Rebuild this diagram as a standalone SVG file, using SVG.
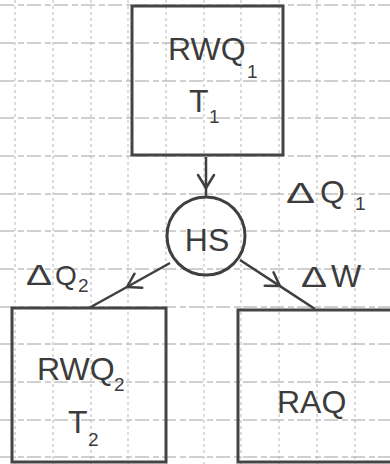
<svg xmlns="http://www.w3.org/2000/svg" width="390" height="464" viewBox="0 0 390 464">
<defs>
<style>
.bg{fill:#ffffff}
.gh{stroke:#a0a0a0;stroke-width:1;stroke-dasharray:14 4 6 3}
.gv{stroke:#b8b8b8;stroke-width:1;stroke-dasharray:3 3}
.box{fill:none;stroke:#454545;stroke-width:3}
.node-c{fill:none;stroke:#3f3f3f;stroke-width:3}
.con{fill:none;stroke:#3f3f3f;stroke-width:2.5;marker-mid:url(#chev)}
.t{font-family:"Liberation Sans",Arial,sans-serif;fill:#3c3c3c}
.d{font-family:"Liberation Sans",Arial,sans-serif;fill:#3c3c3c;font-size:30px}
.big{font-size:32px}
.mid{font-size:28px}
.sub{font-size:19px}
</style>
<marker id="chev" markerUnits="userSpaceOnUse" markerWidth="30" markerHeight="30" refX="0" refY="0" viewBox="-15 -15 30 30" orient="auto" overflow="visible">
<path d="M-13,-8 L0,0 L-13,8" fill="none" stroke="#3f3f3f" stroke-width="2.5" stroke-linejoin="round" stroke-linecap="round"/>
</marker>
</defs>
<rect class="bg" x="0" y="0" width="390" height="464"/>
<g id="grid">
<line class="gh" x1="0" y1="5" x2="390" y2="5"/>
<line class="gh" x1="0" y1="43" x2="390" y2="43"/>
<line class="gh" x1="0" y1="81" x2="390" y2="81"/>
<line class="gh" x1="0" y1="118" x2="390" y2="118"/>
<line class="gh" x1="0" y1="156" x2="390" y2="156"/>
<line class="gh" x1="0" y1="194" x2="390" y2="194"/>
<line class="gh" x1="0" y1="231" x2="390" y2="231"/>
<line class="gh" x1="0" y1="269" x2="390" y2="269"/>
<line class="gh" x1="0" y1="307" x2="390" y2="307"/>
<line class="gh" x1="0" y1="344" x2="390" y2="344"/>
<line class="gh" x1="0" y1="382" x2="390" y2="382"/>
<line class="gh" x1="0" y1="420" x2="390" y2="420"/>
<line class="gh" x1="0" y1="457" x2="390" y2="457"/>
<line class="gv" x1="15" y1="0" x2="15" y2="464"/>
<line class="gv" x1="53" y1="0" x2="53" y2="464"/>
<line class="gv" x1="91" y1="0" x2="91" y2="464"/>
<line class="gv" x1="128" y1="0" x2="128" y2="464"/>
<line class="gv" x1="166" y1="0" x2="166" y2="464"/>
<line class="gv" x1="204" y1="0" x2="204" y2="464"/>
<line class="gv" x1="241" y1="0" x2="241" y2="464"/>
<line class="gv" x1="279" y1="0" x2="279" y2="464"/>
<line class="gv" x1="317" y1="0" x2="317" y2="464"/>
<line class="gv" x1="355" y1="0" x2="355" y2="464"/>
</g>
<g id="connectors">
<polyline class="con" points="206,157 206,188 206,197"/>
<polyline class="con" points="170,263 127,287 89,308"/>
<polyline class="con" points="240,260 280,286.1 315,309"/>
<g id="labels">
<text class="d" transform="translate(286,203) scale(1.45,1)">Δ</text>
<text class="t big" x="320" y="203">Q</text>
<text class="t sub" x="355" y="210">1</text>
<text class="d" transform="translate(26,285) scale(1.3,1)">Δ</text>
<text class="t mid" x="55" y="285">Q</text>
<text class="t sub" x="78" y="292">2</text>
<text class="d" transform="translate(301,287) scale(1.3,1)">Δ</text>
<text class="t big" x="331" y="287">W</text>
</g>
</g>
<g id="RWQ1">
<rect class="box" x="132" y="6" width="151" height="149"/>
<text class="t big" x="168" y="60">RWQ</text>
<text class="t sub" x="247" y="78">1</text>
<text class="t big" x="189" y="112">T</text>
<text class="t sub" x="209" y="123">1</text>
</g>
<g id="HS">
<circle class="node-c" cx="206" cy="236" r="39"/>
<text class="t big" x="207" y="251" text-anchor="middle">HS</text>
</g>
<g id="RWQ2">
<rect class="box" x="12" y="308" width="154" height="154"/>
<text class="t big" x="37" y="380">RWQ</text>
<text class="t sub" x="114" y="391">2</text>
<text class="t big" x="68" y="433">T</text>
<text class="t sub" x="88" y="446">2</text>
</g>
<g id="RAQ">
<rect class="box" x="238" y="310" width="160" height="152"/>
<text class="t big" x="277" y="413">RAQ</text>
</g>
</svg>
